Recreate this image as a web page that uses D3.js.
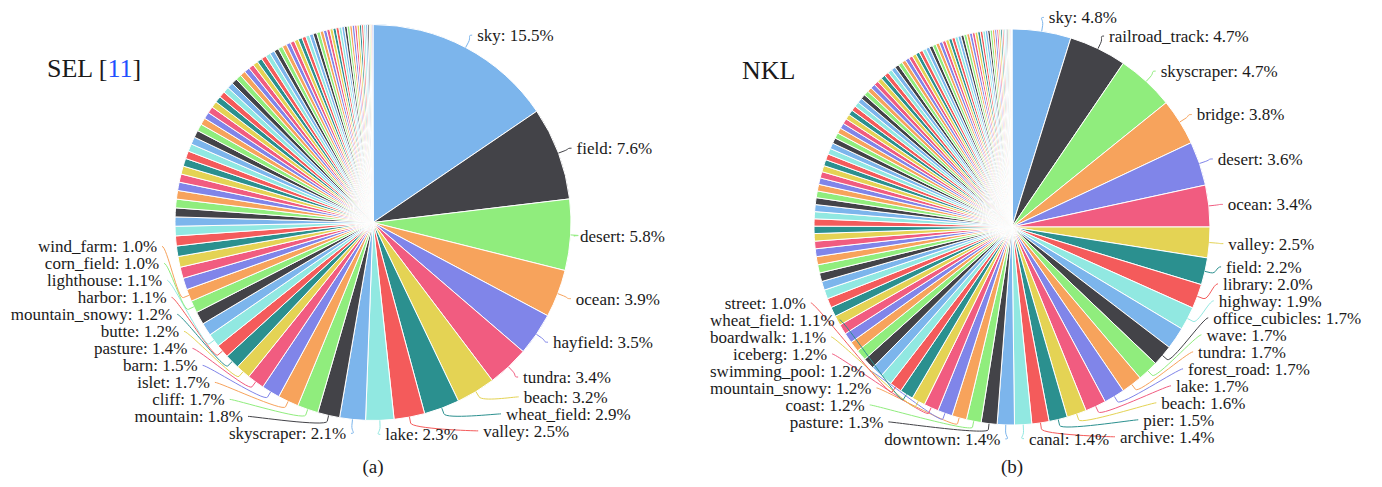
<!DOCTYPE html>
<html>
<head>
<meta charset="UTF-8" />
<title>SEL / NKL class shares</title>
<style>
  body { margin: 0; background: #fff; }
  text { font-family: "Liberation Serif", "Times New Roman", serif; fill: #1a1a1a; }
</style>
</head>
<body>
<svg id="chart" width="1382" height="487"></svg>
<script src="https://d3js.org/d3.v7.min.js"></script>
<script>
// highcharts-like default palette, cycled over the slices
const palette = ["#7cb5ec", "#434348", "#90ed7d", "#f7a35c", "#8085e9",
                 "#f15c80", "#e4d354", "#2b908f", "#f45b5b", "#91e8e1"];

// (a) SEL : labelled classes (null = slice whose label is not shown)
const selNames = ["sky", "field", "desert", "ocean", "hayfield", "tundra", "beach",
  "wheat_field", "valley", "lake", "skyscraper", "mountain", "cliff", "islet", "barn",
  "pasture", "butte", "mountain_snowy", "harbor", "lighthouse", null, null,
  "corn_field", "wind_farm"];
const selShares = [15.5, 7.6, 5.8, 3.9, 3.5, 3.4, 3.2, 2.9, 2.5, 2.3, 2.1, 1.8, 1.7, 1.7,
  1.5, 1.4, 1.2, 1.2, 1.1, 1.1, 1.05, 1.05, 1.0, 1.0];
// the long tail of small classes (no labels)
const selTail = [0.95, 0.92, 0.88, 0.85, 0.82, 0.78, 0.75, 0.73, 0.71, 0.70, 0.68, 0.67,
  0.66, 0.64, 0.63, 0.62, 0.60, 0.59, 0.58, 0.56, 0.55, 0.54, 0.52, 0.51, 0.50, 0.49,
  0.48, 0.47, 0.46, 0.45, 0.44, 0.43, 0.42, 0.41, 0.40, 0.40, 0.39, 0.38, 0.37, 0.36,
  0.35, 0.35, 0.34, 0.33, 0.32, 0.31, 0.31, 0.30, 0.29, 0.28, 0.27, 0.26, 0.25, 0.25,
  0.24, 0.23, 0.22, 0.22, 0.21, 0.20, 0.20, 0.19, 0.19, 0.18, 0.17, 0.16, 0.15, 0.14,
  0.12, 0.10, 0.08];

// (b) NKL
const nklNames = ["sky", "railroad_track", "skyscraper", "bridge", "desert", "ocean",
  "valley", "field", "library", "highway", null, "office_cubicles", "wave", "tundra",
  "forest_road", "lake", "beach", "pier", "archive", "canal", "downtown", "pasture",
  "coast", "mountain_snowy", "swimming_pool", "iceberg", "boardwalk", "wheat_field",
  "street"];
const nklShares = [4.8, 4.7, 4.7, 3.8, 3.6, 3.4, 2.5, 2.2, 2.0, 1.9, 1.8, 1.7, 1.7, 1.7,
  1.7, 1.7, 1.6, 1.5, 1.4, 1.4, 1.4, 1.3, 1.2, 1.2, 1.2, 1.2, 1.1, 1.1, 1.0];
const nklTail = [0.98, 0.95, 0.92, 0.89, 0.86, 0.84, 0.82, 0.80, 0.78, 0.76, 0.74, 0.72,
  0.70, 0.68, 0.66, 0.64, 0.62, 0.61, 0.60, 0.59, 0.58, 0.57, 0.56, 0.55, 0.54, 0.53,
  0.52, 0.51, 0.50, 0.49, 0.48, 0.47, 0.46, 0.45, 0.45, 0.44, 0.43, 0.42, 0.42, 0.41,
  0.40, 0.40, 0.39, 0.39, 0.38, 0.38, 0.37, 0.37, 0.36, 0.36, 0.35, 0.35, 0.34, 0.34,
  0.33, 0.33, 0.32, 0.32, 0.31, 0.31, 0.30, 0.30, 0.29, 0.29, 0.28, 0.28, 0.27, 0.27,
  0.26, 0.26, 0.25, 0.25, 0.24, 0.24, 0.23, 0.23, 0.22, 0.22, 0.21, 0.21, 0.20, 0.20,
  0.19, 0.19, 0.18, 0.17, 0.16, 0.15, 0.14, 0.13, 0.12, 0.11, 0.10, 0.09, 0.08, 0.06,
  0.05, 0.04];

const svg = d3.select("#chart");
const radius = 198;
const labelRing = radius + 14;   // where a label sits when it is not moved
const ellipseB = radius + 42;    // vertical half axis used for moved labels
const rowH = 17;                 // vertical room taken by one label
const fontSize = 17;

function drawPie(names, shares, tail, cx, cy, minX, maxX) {
  const values = shares.concat(tail);
  const color = d3.scaleOrdinal().domain(d3.range(values.length)).range(palette);
  const arcs = d3.pie().sort(null).value(d => d)(values);
  const arc = d3.arc().innerRadius(0).outerRadius(radius);

  const g = svg.append("g").attr("transform", `translate(${cx},${cy})`);

  g.selectAll("path.slice")
    .data(arcs)
    .join("path")
    .attr("class", "slice")
    .attr("d", arc)
    .attr("fill", (d, i) => color(i))
    .attr("stroke", "#fff")
    .attr("stroke-width", 1);

  // labels
  const labels = arcs.map((d, i) => ({ d, i, name: names[i] })).filter(l => l.name);
  labels.forEach(l => {
    l.a = (l.d.startAngle + l.d.endAngle) / 2;
    l.dir = l.a < Math.PI ? 1 : -1;
    l.nx = labelRing * Math.sin(l.a);
    l.ny = -labelRing * Math.cos(l.a);
    l.text = `${l.name}: ${l.d.value.toFixed(1)}%`;
  });

  const lineG = g.append("g");
  const textG = g.append("g");
  const texts = textG.selectAll("text")
    .data(labels)
    .join("text")
    .attr("font-size", fontSize)
    .attr("dy", "0.35em")
    .attr("text-anchor", l => l.dir > 0 ? "start" : "end")
    .text(l => l.text);
  texts.each(function (l) { l.w = this.getComputedTextLength(); });

  const top = 12 - cy, bottom = 440 - cy;
  const loX = minX - cx, hiX = maxX - cx;

  // try the natural spot, then the same height further out, then step towards the middle
  function place(l, placed, step) {
    let y = Math.max(top, Math.min(bottom, l.ny));
    let natural = true;
    for (let k = 0; k < 80; k++) {
      const px = natural ? l.nx
        : l.dir * labelRing * Math.sqrt(Math.max(0, 1 - (y * y) / (ellipseB * ellipseB)));
      let x0 = px + l.dir * 5;
      if (l.dir > 0) x0 = Math.min(x0, hiX - l.w);
      else x0 = Math.max(x0, loX + l.w);
      const left = l.dir > 0 ? x0 : x0 - l.w;
      const right = left + l.w;
      const hits = placed.filter(p => Math.abs(p.y - y) < rowH &&
        left < p.right + 2 && right > p.left - 2);
      if (!hits.length) {
        Object.assign(l, { x: x0, y, left, right });
        placed.push(l);
        return;
      }
      if (natural) { natural = false; continue; }
      y = step < 0 ? d3.min(hits, p => p.y) - rowH : d3.max(hits, p => p.y) + rowH;
    }
  }

  const placed = [];
  [1, -1].forEach(dir => {
    const side = labels.filter(l => l.dir === dir);
    side.filter(l => l.ny >= 0).sort((a, b) => b.ny - a.ny).forEach(l => place(l, placed, -1));
    side.filter(l => l.ny < 0).sort((a, b) => a.ny - b.ny).forEach(l => place(l, placed, 1));
  });

  texts.attr("x", l => l.x).attr("y", l => l.y);

  // soft connectors: label -> break point near the rim -> rim
  lineG.selectAll("path")
    .data(labels)
    .join("path")
    .attr("fill", "none")
    .attr("stroke", l => color(l.i))
    .attr("stroke-width", 1)
    .attr("d", l => {
      const s = Math.sin(l.a), c = -Math.cos(l.a);
      const tx = radius * s, ty = radius * c;
      const bx = (radius + 6) * s, by = (radius + 6) * c;
      const ax = l.x - l.dir * 5, ay = l.y;
      const p = d3.path();
      p.moveTo(ax, ay);
      p.bezierCurveTo(ax - l.dir * 5, ay, 2 * bx - tx, 2 * by - ty, bx, by);
      p.lineTo(tx, ty);
      return p.toString();
    });
}

drawPie(selNames, selShares, selTail, 373, 222.5, 8, 665);
drawPie(nklNames, nklShares, nklTail, 1012, 227, 710, 1376);

// titles
const t1 = svg.append("text").attr("x", 47).attr("y", 77).attr("font-size", 26);
t1.append("tspan").text("SEL [");
t1.append("tspan").style("fill", "#1f4fff").text("11");
t1.append("tspan").text("]");
svg.append("text").attr("x", 742).attr("y", 79).attr("font-size", 26).text("NKL");

// sub-figure captions
svg.append("text").attr("x", 373).attr("y", 473).attr("font-size", 19)
  .attr("text-anchor", "middle").text("(a)");
svg.append("text").attr("x", 1012).attr("y", 473).attr("font-size", 19)
  .attr("text-anchor", "middle").text("(b)");
</script>
</body>
</html>
